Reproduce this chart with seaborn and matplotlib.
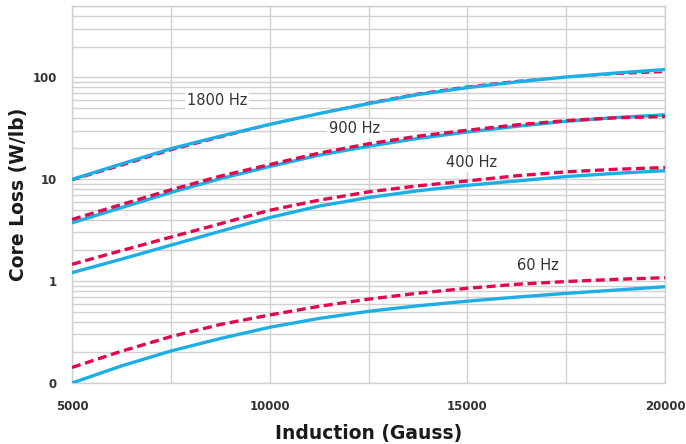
import numpy as np
import pandas as pd
import matplotlib
matplotlib.use("Agg")
import matplotlib.pyplot as plt
import seaborn as sns
from matplotlib.ticker import FixedLocator, LogLocator, NullFormatter

induction = [5000, 6250, 7500, 8750, 10000, 11250, 12500, 13750, 15000, 16250, 17500, 18750, 20000]

blue_1800 = [9.95, 14.1, 19.9, 26.4, 34.5, 44.0, 55.0, 67.6, 79.0, 90.0, 100.5, 110.0, 119.0]
red_1800 = [9.7, 13.5, 19.1, 25.6, 34.0, 44.2, 56.4, 69.5, 81.5, 92.5, 100.5, 107.0, 112.0]
blue_900 = [3.73, 5.25, 7.4, 10.1, 13.3, 17.2, 21.0, 25.1, 29.0, 33.0, 37.0, 40.2, 42.8]
red_900 = [4.02, 5.64, 7.86, 10.7, 13.9, 18.0, 22.2, 26.4, 30.2, 34.1, 37.5, 40.0, 41.2]
blue_400 = [1.21, 1.64, 2.25, 3.08, 4.2, 5.44, 6.6, 7.69, 8.7, 9.6, 10.6, 11.4, 12.1]
red_400 = [1.46, 1.99, 2.7, 3.65, 4.95, 6.22, 7.5, 8.6, 9.6, 10.8, 11.8, 12.5, 13.0]
blue_60 = [0.1, 0.147, 0.206, 0.273, 0.352, 0.43, 0.505, 0.572, 0.635, 0.697, 0.757, 0.816, 0.88]
red_60 = [0.142, 0.205, 0.285, 0.375, 0.465, 0.565, 0.665, 0.76, 0.85, 0.93, 0.99, 1.04, 1.08]

freq_labels = ["1800 Hz", "900 Hz", "400 Hz", "60 Hz"]
label_x = [8670, 12160, 15100, 16790]
label_y = [59, 31.6, 14.7, 1.43]

y_ticks = [0.1, 1, 10, 100]
y_tick_labels = ["0", "1", "10", "100"]
x_ticks = [5000, 10000, 15000, 20000]
x_tick_labels = ["5000", "10000", "15000", "20000"]

BLUE = "#1eaee6"
RED = "#e0094e"

sns.set_theme(style="white")
plt.rcParams["font.family"] = ["DejaVu Sans"]

fig = plt.figure(figsize=(6.86, 4.44), dpi=100)
ax = fig.add_axes([72 / 686, 61 / 444, (665 - 72) / 686, (383 - 6) / 444])

series = [
    (blue_1800, red_1800, 1.3),
    (blue_900, red_900, 2.4),
    (blue_400, red_400, 2.4),
    (blue_60, red_60, 2.4),
]
for blue, red, rw in series:
    df = pd.DataFrame({"x": induction, "blue": blue, "red": red})
    if rw < 2:
        sns.lineplot(data=df, x="x", y="red", ax=ax, color=RED, lw=rw,
                     linestyle=(0, (4.5, 2.5)), zorder=3)
        sns.lineplot(data=df, x="x", y="blue", ax=ax, color=BLUE, lw=2.4, zorder=4)
    else:
        sns.lineplot(data=df, x="x", y="blue", ax=ax, color=BLUE, lw=2.4, zorder=3)
        sns.lineplot(data=df, x="x", y="red", ax=ax, color=RED, lw=rw,
                     linestyle=(0, (2.7, 1.4)), zorder=4)

ax.set_yscale("log")
ax.set_xlim(5000, 20000)
ax.set_ylim(0.1, 500)

ax.yaxis.set_major_locator(FixedLocator(y_ticks))
ax.set_yticklabels(y_tick_labels)
ax.yaxis.set_minor_locator(LogLocator(base=10, subs=np.arange(2, 10)))
ax.yaxis.set_minor_formatter(NullFormatter())
ax.set_xticks(x_ticks)
ax.set_xticklabels(x_tick_labels)
ax.set_xticks([7500, 12500, 17500], minor=True)

ax.grid(True, which="both", color="#d0d0d0", lw=1.0)
ax.set_axisbelow(True)
for s in ax.spines.values():
    s.set_color("#d0d0d0")
    s.set_linewidth(1.0)

ax.tick_params(axis="both", which="both", length=0)
ax.tick_params(axis="y", pad=11, labelsize=8.5, labelcolor="#333333")
ax.tick_params(axis="x", pad=12, labelsize=8.5, labelcolor="#333333")
for lab in ax.get_xticklabels() + ax.get_yticklabels():
    lab.set_fontweight("bold")

ax.set_xlabel("Induction (Gauss)", fontsize=13.5, fontweight="bold", color="#1a1a1a", labelpad=8)
ax.set_ylabel("Core Loss (W/lb)", fontsize=13.5, fontweight="bold", color="#1a1a1a", labelpad=3)

for t, x, y in zip(freq_labels, label_x, label_y):
    ax.text(x, y, t, fontsize=10.5, color="#333333", ha="center", va="center", zorder=5,
            bbox=dict(facecolor="white", edgecolor="none", pad=1.5))

fig.savefig("out.png", dpi=100)
